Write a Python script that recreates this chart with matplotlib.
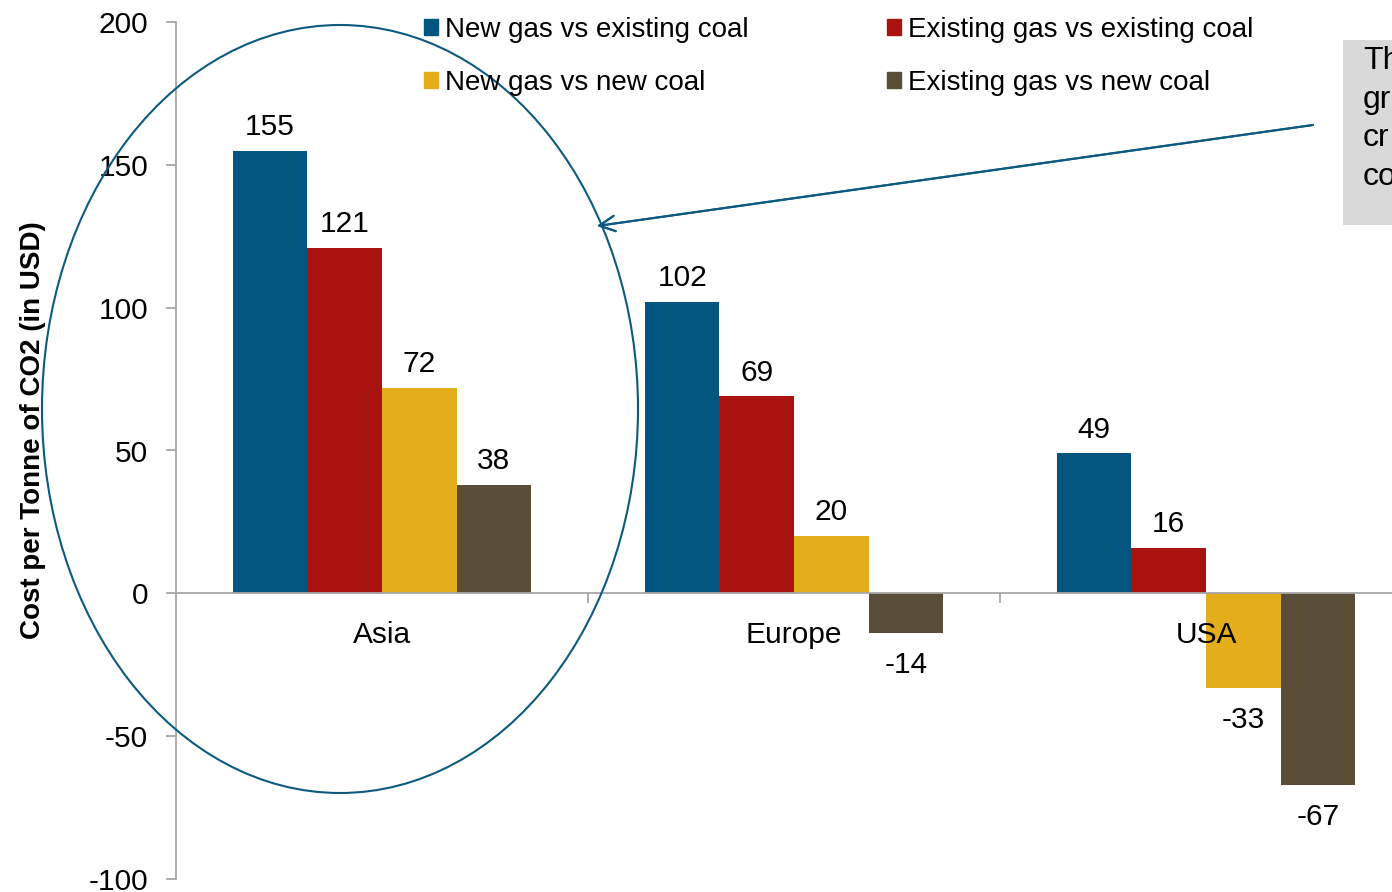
import numpy as np
import matplotlib.pyplot as plt
from matplotlib.patches import Patch, Ellipse, Rectangle

plt.rcParams['font.family'] = ['Liberation Sans', 'DejaVu Sans']

# cost of switching coal to gas, USD per tonne of CO2
regions = ['Asia', 'Europe', 'USA']
series = ['New gas vs existing coal', 'Existing gas vs existing coal',
          'New gas vs new coal', 'Existing gas vs new coal']
new_gas_existing_coal = [155, 102, 49]
existing_gas_existing_coal = [121, 69, 16]
new_gas_new_coal = [72, 20, -33]
existing_gas_new_coal = [38, -14, -67]
yticks = [-100, -50, 0, 50, 100, 150, 200]

colors = ['#02557f', '#a8120f', '#e3ae19', '#5a4d37']


def main():
    W, H = 1392, 892
    fig = plt.figure(figsize=(W / 100, H / 100), dpi=100)
    # axes runs a little past the right edge of the figure
    ax = fig.add_axes([176 / W, 13 / H, 1236 / W, 857 / H])

    values = [new_gas_existing_coal, existing_gas_existing_coal,
              new_gas_new_coal, existing_gas_new_coal]
    x = np.arange(len(regions))
    bw = 0.181
    for k, vals in enumerate(values):
        bars = ax.bar(x + (k - 1.5) * bw, vals, bw, color=colors[k],
                      label=series[k])
        # positive and negative labels sit at slightly different gaps
        ax.bar_label(bars, labels=[str(v) if v >= 0 else '' for v in vals],
                     padding=7, fontsize=21.5)
        ax.bar_label(bars, labels=[str(v) if v < 0 else '' for v in vals],
                     padding=13, fontsize=21.5)

    ax.set_xlim(-0.5, 2.5)
    ax.set_ylim(-100, 200)
    ax.set_yticks(yticks)
    ax.set_yticklabels([str(t) for t in yticks], fontsize=21.5)
    ax.set_xticks([0.5, 1.5])
    ax.set_xticklabels([])

    for s in ['top', 'right']:
        ax.spines[s].set_visible(False)
    ax.spines['bottom'].set_position(('data', 0))
    for s in ['left', 'bottom']:
        ax.spines[s].set_color('#a6a6a6')
        ax.spines[s].set_linewidth(1.3)
    ax.tick_params(axis='y', direction='out', length=7, width=1.3,
                   color='#a6a6a6', pad=13)
    ax.tick_params(axis='x', direction='out', length=7, width=1.3,
                   color='#a6a6a6')

    for i, r in enumerate(regions):
        ax.annotate(r, (x[i], 0), xytext=(0, -30), textcoords='offset points',
                    ha='center', va='center', fontsize=21.5)

    fig.text(33 / W, 1 - 430 / H, 'Cost per Tonne of CO2 (in USD)',
             rotation=90, ha='center', va='center', fontsize=20,
             fontweight='bold')

    # legend, filled column-wise
    handles = [Patch(color=c) for c in colors]
    order = [0, 2, 1, 3]
    fig.legend([handles[i] for i in order], [series[i] for i in order],
               ncol=2, loc='upper left',
               bbox_to_anchor=(424 / W, 1 - 17 / H), frameon=False,
               fontsize=20, handlelength=0.5, handleheight=0.5,
               handletextpad=0.25, columnspacing=5.0, labelspacing=0.98,
               borderpad=0, borderaxespad=0)

    # highlight around the Asia group
    fig.patches.append(Ellipse((340 / W, 1 - 409 / H), 596 / W, 768 / H,
                               transform=fig.transFigure, fill=False,
                               edgecolor='#0d5a80', linewidth=1.5))
    fig.add_artist(plt.annotate(
        '', xy=(597 / W, 1 - 226 / H), xytext=(1313 / W, 1 - 125 / H),
        xycoords='figure fraction', textcoords='figure fraction',
        arrowprops=dict(arrowstyle='->', color='#0d5a80', lw=1.5,
                        mutation_scale=28, shrinkA=0, shrinkB=0)))

    # note box at the right edge
    fig.patches.append(Rectangle((1343 / W, 1 - 225 / H), 100 / W, 185 / H,
                                 transform=fig.transFigure,
                                 facecolor='#d9d9d9', edgecolor='none'))
    fig.text(1363 / W, 1 - 46 / H, 'Th\ngr\ncr\nco', ha='left', va='top',
             fontsize=23, linespacing=1.37)

    fig.savefig('out.png', dpi=100)


if __name__ == '__main__':
    main()
